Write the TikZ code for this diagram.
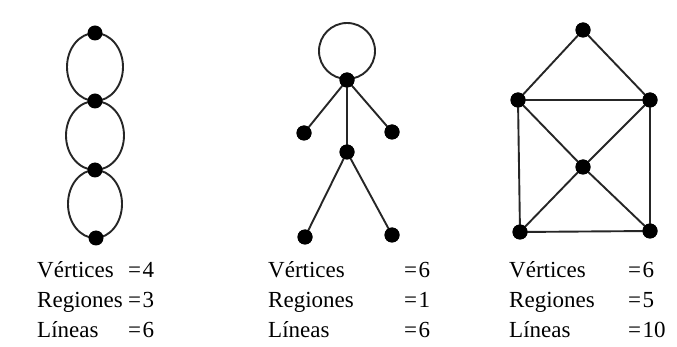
\documentclass[tikz,border=0pt]{standalone}
\usepackage{fontspec}
\setmainfont{Liberation Serif}
\usetikzlibrary{calc}
\newcommand{\eqv}[1]{=\kern1.5pt #1}
\begin{document}
\begin{tikzpicture}[x=1pt,y=-1pt,
  vtx/.style={circle,fill=black,inner sep=0pt,minimum size=15pt},
  edge/.style={draw=black!85,line width=1.9pt},
  lbl/.style={anchor=base west,inner sep=0pt,font=\fontsize{23}{27}\selectfont}]
\useasboundingbox[fill=white] (0,0) rectangle (677,347);
% graph 1
\coordinate (m1) at (95,67);
\coordinate (m2) at (95,135.5);
\coordinate (m3) at (95,204);
\draw[edge] (m1) ellipse [x radius=28pt, y radius=34pt];
\draw[edge] (m2) ellipse [x radius=29pt, y radius=34.5pt];
\draw[edge] (m3) ellipse [x radius=27pt, y radius=34pt];
\node[vtx] (a1) at (95,33) {};
\node[vtx] (a2) at (95,101) {};
\node[vtx] (a3) at (95,170) {};
\node[vtx] (a4) at (96,238) {};
% graph 2
\coordinate (lc) at (347,51);
\draw[edge] (lc) circle [radius=28pt];
\node[vtx] (b1) at (347,80) {};
\node[vtx] (b2) at (304,133) {};
\node[vtx] (b3) at (392,132) {};
\node[vtx] (b4) at (347,152) {};
\node[vtx] (b5) at (305,237) {};
\node[vtx] (b6) at (392,235) {};
\draw[edge] (b1.center) -- (b2.center);
\draw[edge] (b1.center) -- (b3.center);
\draw[edge] (b1.center) -- (b4.center);
\draw[edge] (b4.center) -- (b5.center);
\draw[edge] (b4.center) -- (b6.center);
\foreach \n in {b1,b2,b3,b4,b5,b6} \node[vtx] at (\n) {};
% graph 3
\node[vtx] (c1) at (583,30) {};
\node[vtx] (c2) at (518,100) {};
\node[vtx] (c3) at (650,100) {};
\node[vtx] (c4) at (583,167) {};
\node[vtx] (c5) at (520,232) {};
\node[vtx] (c6) at (650,231) {};
\foreach \p/\q in {c1/c2,c1/c3,c2/c3,c2/c5,c3/c6,c5/c6,c2/c4,c3/c4,c4/c5,c4/c6}
  \draw[edge] (\p.center) -- (\q.center);
\foreach \n in {c1,c2,c3,c4,c5,c6} \node[vtx] at (\n) {};
% labels
\node[lbl] (t11) at (37,277) {Vértices};
\node[lbl] (t12) at (37,307) {Regiones};
\node[lbl] (t13) at (37,337) {Líneas};
\node[lbl] (e11) at (128,277) {\eqv{4}};
\node[lbl] (e12) at (128,307) {\eqv{3}};
\node[lbl] (e13) at (128,337) {\eqv{6}};
\node[lbl] (t21) at (268,277) {Vértices};
\node[lbl] (t22) at (268,307) {Regiones};
\node[lbl] (t23) at (268,337) {Líneas};
\node[lbl] (e21) at (404,277) {\eqv{6}};
\node[lbl] (e22) at (404,307) {\eqv{1}};
\node[lbl] (e23) at (404,337) {\eqv{6}};
\node[lbl] (t31) at (509,277) {Vértices};
\node[lbl] (t32) at (509,307) {Regiones};
\node[lbl] (t33) at (509,337) {Líneas};
\node[lbl] (e31) at (628,277) {\eqv{6}};
\node[lbl] (e32) at (628,307) {\eqv{5}};
\node[lbl] (e33) at (628,337) {\eqv{10}};
\end{tikzpicture}
\end{document}
